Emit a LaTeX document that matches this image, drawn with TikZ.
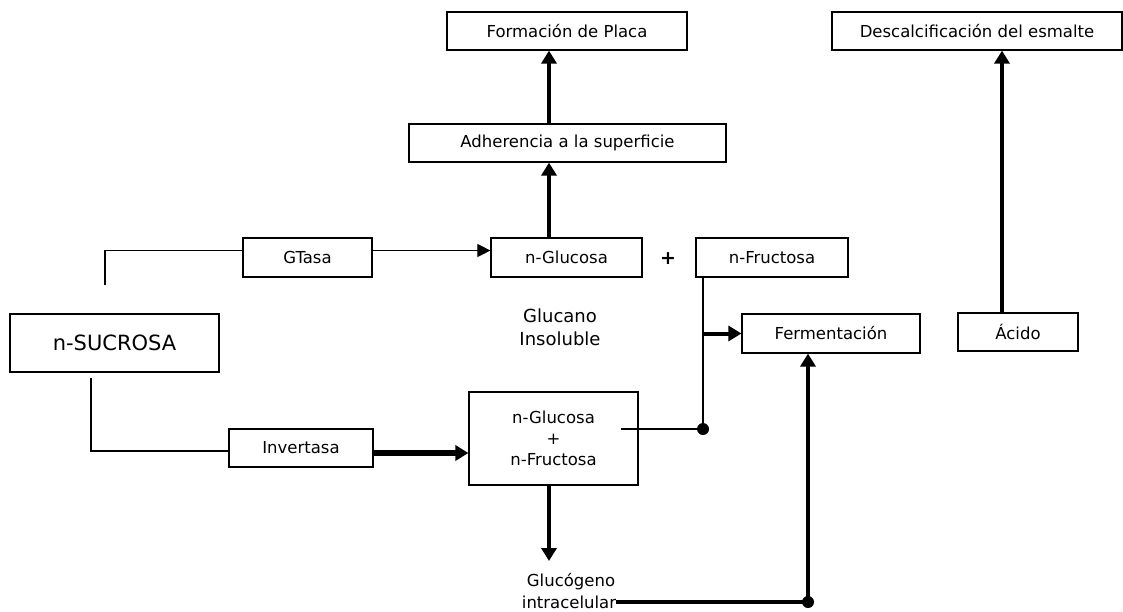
\documentclass[tikz,border=0pt]{standalone}
\usepackage{fontspec}
\setmainfont{DejaVu Sans}
\usetikzlibrary{positioning, calc, arrows.meta}
\tikzstyle{Box} = [
draw,
line width=1.2pt,
minimum height=38pt,
inner sep=2pt,
font=\fontsize{16.5}{19}\selectfont]
\tikzstyle{Label} = [inner sep=0pt, font=\fontsize{16.5}{19}\selectfont]
\tikzstyle{Line} = [line width=1.1pt]
\tikzstyle{ThinArrow} = [line width=1.1pt, -{Triangle[length=13pt, width=13pt]}]
\tikzstyle{Arrow} = [line width=4pt, -{Triangle[length=13pt, width=15pt]}]

\begin{document}
\begin{tikzpicture}[x=1pt, y=-1pt]
    \useasboundingbox (0,0) rectangle (1123,611);

    \node [Box, minimum width=240pt] (placa) at (567,31) {Formación de Placa};
    \node [Box, minimum width=317pt] (adher) at (567.5,143) {Adherencia a la superficie};
    \node [Box, minimum width=290pt] (desc) at (977,31) {Descalcificación del esmalte};
    \node [Box, minimum width=120pt] (acido) at (1018,332) {Ácido};
    \node [Box, minimum width=129pt, minimum height=39pt] (gtasa) at (307.5,257.5) {GTasa};
    \node [Box, minimum width=209pt, minimum height=58pt,
           font=\fontsize{21}{25}\selectfont] (sucrosa) at (114.5,343) {n-SUCROSA};
    \node [Box, minimum width=144pt] (invert) at (301,448) {Invertasa};
    \node [Box, minimum width=151pt, minimum height=39pt] (nglu) at (566.5,257.5) {n-Glucosa};
    \node [font=\fontsize{19}{20}\selectfont\bfseries] (plus) at (668,259) {+};
    \node [Box, minimum width=152pt, minimum height=39pt] (nfru) at (772,257.5) {n-Fructosa};
    \node [Box, minimum width=178pt, minimum height=39pt] (ferm) at (831,333.5) {Fermentación};
    \node [Box, minimum width=169pt, minimum height=93pt, align=center,
           font=\fontsize{16.5}{21}\selectfont] (mix) at (553.5,438.5) {n-Glucosa\\+\\n-Fructosa};
    \node [Label, align=center, font=\fontsize{18}{23}\selectfont] (glucano) at (560,327.5) {Glucano\\Insoluble};
    \node [Label] (glucogA) at (571,582) {Glucógeno};
    \node [Label] (glucogB) at (569,602) {intracelular};

    % free ends and branch points
    \coordinate (sucU) at (105,285);
    \coordinate (sucD) at (91,378);
    \coordinate (col) at (549,0);
    \coordinate (colA) at (1002,0);
    \coordinate (mixR) at (621,429);
    \coordinate (glucTip) at (549,561);
    \coordinate (dotA) at (703,429);
    \coordinate (dotB) at (808,602);

    \draw[Line] (sucU) |- ([yshift=7pt]gtasa.west);
    \draw[ThinArrow] ([yshift=7pt]gtasa.east) -- ([yshift=7pt]nglu.west);
    \draw[Line] (sucD) |- ([yshift=-3pt]invert.west);
    \draw[Arrow, line width=5.5pt] ([yshift=-5pt]invert.east) -- ([yshift=-5pt]invert.east -| mix.west);

    \draw[Arrow] (nglu.north -| col) -- (adher.south -| col);
    \draw[Arrow] (adher.north -| col) -- (placa.south -| col);
    \draw[Arrow] (acido.north -| colA) -- (desc.south -| colA);

    \draw[Line] (mixR) -- (dotA) -- (dotA |- nfru.south);
    \draw[Arrow] (dotA |- ferm.west) -- (ferm.west);
    \draw[Arrow] (mix.south -| glucTip) -- (glucTip);
    \draw[Arrow] (glucogB.east) -- (dotB) -- (dotB |- ferm.south);

    \fill (dotA) circle (6);
    \fill (dotB) circle (6);
\end{tikzpicture}
\end{document}
